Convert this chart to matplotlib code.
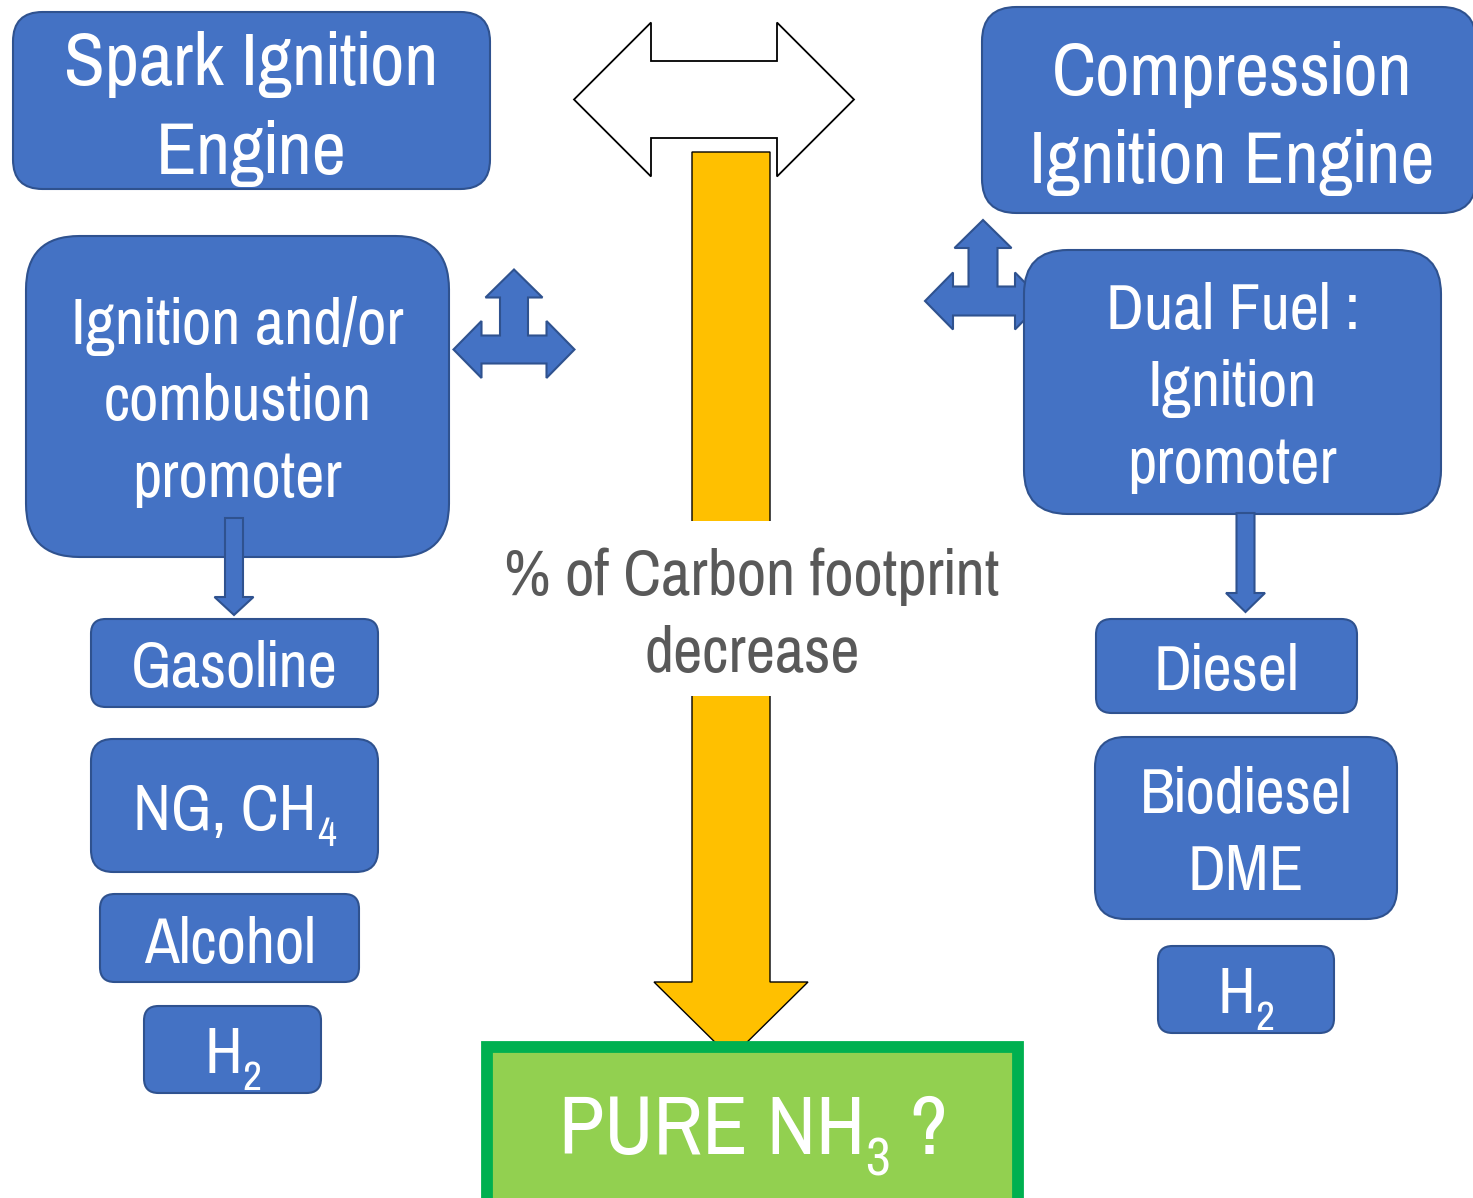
import matplotlib.pyplot as plt
from matplotlib.patches import FancyBboxPatch, Polygon, Rectangle

W, H = 1473, 1198
FONT = ['Pragati Narrow', 'Roboto Condensed', 'Archivo Narrow', 'DejaVu Sans']
BLUE = '#4472C4'
BLUE_EDGE = '#2F528F'

# box texts ("_" marks a one-character subscript)
box_texts = ['Spark Ignition\nEngine', 'Compression\nIgnition Engine',
             'Ignition and/or\ncombustion\npromoter', 'Dual Fuel :\nIgnition\npromoter',
             'Gasoline', 'NG, CH_4', 'Alcohol', 'H_2',
             'Diesel', 'Biodiesel\nDME', 'H_2']
box_left = [13, 982, 26, 1024, 91, 91, 100, 144, 1096, 1095, 1158]
box_top = [12, 7, 236, 250, 619, 739, 894, 1006, 619, 737, 946]
box_right = [490, 1476, 449, 1441, 378, 378, 359, 321, 1357, 1397, 1334]
box_bottom = [189, 213, 557, 514, 707, 872, 982, 1093, 713, 919, 1033]
box_baselines = [[85, 174], [95, 183], [344, 420, 497], [329, 406, 483],
                 [687], [830], [963], [1073], [690], [813, 890], [1013]]
box_fontsize = [58.5, 58.5, 50, 50, 50, 50, 50, 50, 50, 50, 50]

center_text = ['% of Carbon footprint', 'decrease']
center_baselines = [595, 672]
target_text = 'PURE NH_3 ?'

fig = plt.figure(figsize=(W / 100, H / 100), dpi=100)
ax = fig.add_axes([0, 0, 1, 1])
ax.set_xlim(0, W)
ax.set_ylim(H, 0)
ax.axis('off')
renderer = fig.canvas.get_renderer()


def text_width(s, size):
    t = ax.text(0, 0, s, fontsize=size, family=FONT)
    w = t.get_window_extent(renderer).width
    t.remove()
    return w


def put_line(xc, yb, line, size, color, z=10):
    chunks = line.split('_')
    parts = [(chunks[0], False)]
    for c in chunks[1:]:
        parts.append((c[0], True))
        if c[1:]:
            parts.append((c[1:], False))
    placed = []
    total = 0
    for s, sub in parts:
        fs = size * 0.65 if sub else size
        lead = 0
        if s.startswith(' '):
            lead = text_width('a a', fs) - text_width('aa', fs)
            s = s.lstrip()
        t = ax.text(0, yb, s, fontsize=fs, color=color, family=FONT,
                    ha='left', va='baseline', zorder=z)
        w = t.get_window_extent(renderer).width
        placed.append((t, lead, w, sub))
        total += lead + w
    x = xc - total / 2
    for t, lead, w, sub in placed:
        x += lead
        t.set_x(x)
        if sub:
            t.set_y(yb + size * 0.33)
        x += w


def cross_arrow(cx, cy, up, left, right, sh, hh, hl, z):
    pts = [(cx, up), (cx + hh, up + hl), (cx + sh, up + hl), (cx + sh, cy - sh),
           (right - hl, cy - sh), (right - hl, cy - hh), (right, cy),
           (right - hl, cy + hh), (right - hl, cy + sh), (left + hl, cy + sh),
           (left + hl, cy + hh), (left, cy), (left + hl, cy - hh),
           (left + hl, cy - sh), (cx - sh, cy - sh), (cx - sh, up + hl),
           (cx - hh, up + hl)]
    ax.add_patch(Polygon(pts, closed=True, fc=BLUE, ec=BLUE_EDGE, lw=1.5, zorder=z))


def down_arrow(cx, top, tip, sh, hh, hl, fc, ec, lw, z):
    pts = [(cx - sh, top), (cx + sh, top), (cx + sh, tip - hl), (cx + hh, tip - hl),
           (cx, tip), (cx - hh, tip - hl), (cx - sh, tip - hl)]
    ax.add_patch(Polygon(pts, closed=True, fc=fc, ec=ec, lw=lw, zorder=z))


# white double arrow at the top
lt, rt, cy, hl, hh, sh = 574, 854, 99.5, 77, 77, 38.5
pts = [(lt, cy), (lt + hl, cy - hh), (lt + hl, cy - sh), (rt - hl, cy - sh),
       (rt - hl, cy - hh), (rt, cy), (rt - hl, cy + hh), (rt - hl, cy + sh),
       (lt + hl, cy + sh), (lt + hl, cy + hh)]
ax.add_patch(Polygon(pts, closed=True, fc='white', ec='black', lw=1.3, zorder=1))

# big yellow arrow
down_arrow(731, 152, 1058, 39, 77, 76, '#FFC000', 'black', 1.0, 2)
ax.add_patch(Rectangle((660, 521), 140, 175, fc='white', ec='none', zorder=3))

# three-way arrows
cross_arrow(514, 349.5, 269.5, 453.5, 574.5, 14, 28.5, 28, 2)
cross_arrow(983, 301, 220, 925, 1043, 14.5, 28.5, 28, 2)

# rounded boxes
for i, txt in enumerate(box_texts):
    w = box_right[i] - box_left[i]
    h = box_bottom[i] - box_top[i]
    r = min(w, h) / 6
    ax.add_patch(FancyBboxPatch((box_left[i], box_top[i]), w, h,
                                boxstyle=f'round,pad=0,rounding_size={r}',
                                fc=BLUE, ec=BLUE_EDGE, lw=1.5, zorder=3))
    xc = (box_left[i] + box_right[i]) / 2
    if i == 1:
        xc = 1232
    for line, yb in zip(txt.split('\n'), box_baselines[i]):
        put_line(xc, yb, line, box_fontsize[i], 'white')

# small down arrows
down_arrow(234, 518, 615, 9, 19.5, 18, BLUE, BLUE_EDGE, 1.5, 4)
down_arrow(1245.5, 513, 612, 9, 19.5, 19, BLUE, BLUE_EDGE, 1.5, 4)

# centre label
for line, yb in zip(center_text, center_baselines):
    put_line(752, yb, line, 50, '#595959')

# target box
ax.add_patch(Rectangle((487, 1047), 531, 175, fc='#92D050', ec='#00B050',
                       lw=8.5, joinstyle='miter', zorder=5))
put_line(753, 1154, target_text, 65, 'white')

fig.savefig('out.png', dpi=100)
